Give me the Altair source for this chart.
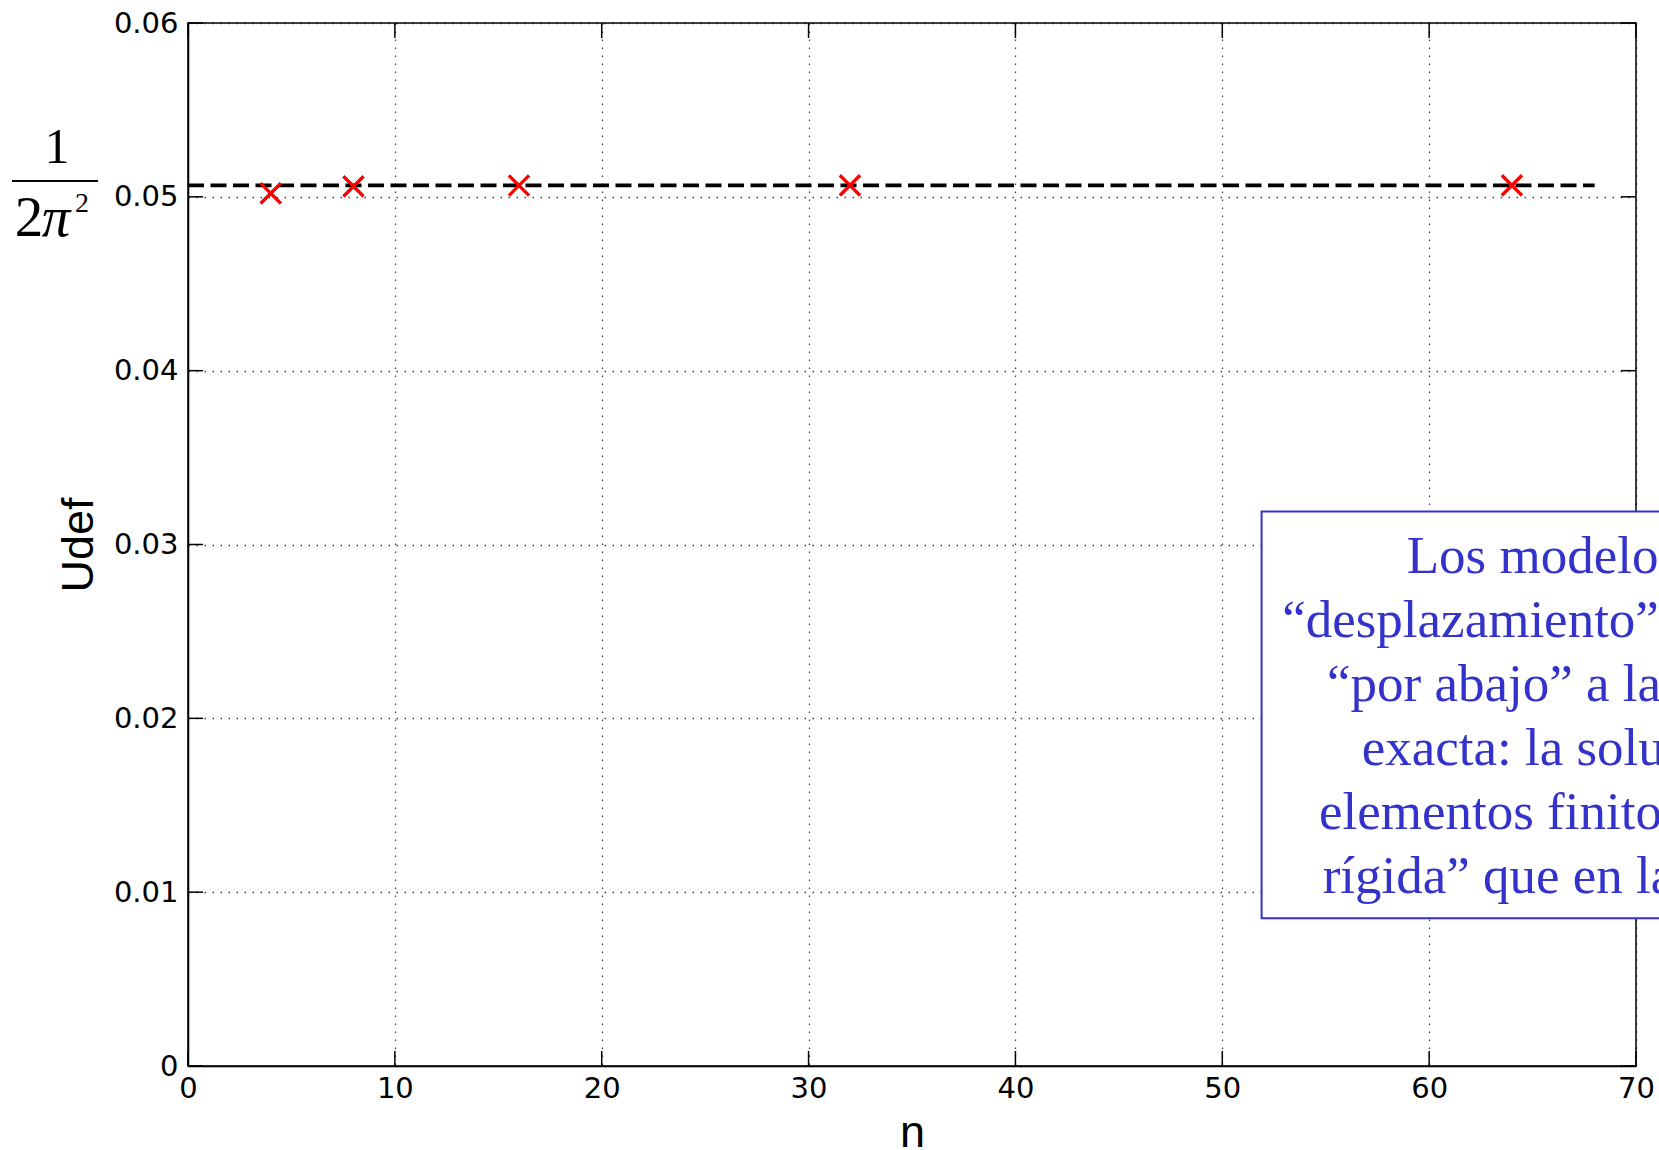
import math
import altair as alt
import pandas as pd

# Finite-element estimates of the deflection for increasing mesh size n
n_values = [4, 8, 16, 32, 64]
udef_values = [0.0502, 0.0506, 0.05065, 0.05066, 0.05066]

# Exact solution 1 / (2 pi^2), drawn as a dashed reference line
exact_value = 1 / (2 * math.pi ** 2)
exact_span = [0, 68]

x_ticks = [0, 10, 20, 30, 40, 50, 60, 70]
y_ticks = [0, 0.01, 0.02, 0.03, 0.04, 0.05, 0.06]

note_lines = [
    "Los modelos de",
    "“desplazamiento” aproximan",
    "“por abajo” a la solución",
    "exacta: la solución de",
    "elementos finitos es “más",
    "rígida” que en la realidad",
]
note_box_x = [51.9, 82.0]
note_box_y = [0.0085, 0.0319]
note_text_pos = [67.8, 0.02835]

W, H = 1448, 1043
TICK = 15
LINE_H = 64
NOTE_BLUE = "#3333cc"

x_scale = alt.Scale(domain=[0, 70], nice=False, zero=False)
y_scale = alt.Scale(domain=[0, 0.06], nice=False, zero=False)

x_axis = alt.Axis(
    values=x_ticks, title="n", grid=True, ticks=False, tickSize=0,
    labelFlush=False, labelOverlap=False, labelPadding=8, titlePadding=7,
)
y_axis = alt.Axis(
    values=y_ticks, title="Udef", grid=True, ticks=False, tickSize=0,
    labelFlush=False, labelOverlap=False, labelPadding=10, titlePadding=12,
    labelExpr="datum.value == 0 ? '0' : format(datum.value, '.2f')",
)

pts = pd.DataFrame({"n": n_values, "udef": udef_values})
xt = pd.DataFrame({"v": x_ticks})
yt = pd.DataFrame({"v": y_ticks})

# Base layer carrying the axes and the FE points
points = alt.Chart(pts).mark_point(
    shape="M-1,-1L1,1M-1,1L1,-1", size=400, filled=False,
    color="#ff0000", strokeWidth=3, opacity=1,
).encode(
    x=alt.X("n:Q", scale=x_scale, axis=x_axis),
    y=alt.Y("udef:Q", scale=y_scale, axis=y_axis),
)

exact_line = alt.Chart().mark_rule(
    color="black", strokeWidth=3.8, strokeDash=[16, 6.5]
).encode(
    x=alt.datum(exact_span[0]), x2=alt.datum(exact_span[1]), y=alt.datum(exact_value)
)

# Inward tick marks on all four sides of the box
tick_bottom = alt.Chart(xt).mark_rule(color="black", strokeWidth=1.5).encode(
    x="v:Q", y=alt.value(H), y2=alt.value(H - TICK))
tick_top = alt.Chart(xt).mark_rule(color="black", strokeWidth=1.5).encode(
    x="v:Q", y=alt.value(0), y2=alt.value(TICK))
tick_left = alt.Chart(yt).mark_rule(color="black", strokeWidth=1.5).encode(
    y="v:Q", x=alt.value(0), x2=alt.value(TICK))
tick_right = alt.Chart(yt).mark_rule(color="black", strokeWidth=1.5).encode(
    y="v:Q", x=alt.value(W), x2=alt.value(W - TICK))

# Note box
note_box = alt.Chart().mark_rect(
    fill="white", stroke=NOTE_BLUE, strokeWidth=2
).encode(
    x=alt.datum(note_box_x[0]), x2=alt.datum(note_box_x[1]),
    y=alt.datum(note_box_y[0]), y2=alt.datum(note_box_y[1]),
)
note_style = dict(
    font="Liberation Serif", fontSize=53, color=NOTE_BLUE,
    align="center", baseline="alphabetic", lineHeight=LINE_H,
)
note_first = alt.Chart().mark_text(dx=-16, **note_style).encode(
    x=alt.datum(note_text_pos[0]), y=alt.datum(note_text_pos[1]),
    text=alt.value(note_lines[0]),
)
note_rest = alt.Chart().mark_text(dy=LINE_H, **note_style).encode(
    x=alt.datum(note_text_pos[0]), y=alt.datum(note_text_pos[1]),
    text=alt.value(note_lines[1:]),
)

# Fraction label 1 / (2 pi^2) next to the y axis
serif = dict(font="Liberation Serif", color="black", align="center", baseline="alphabetic")
frac_num = alt.Chart().mark_text(fontSize=50, **serif).encode(
    x=alt.value(-131), y=alt.value(140), text=alt.value("1"))
frac_bar = alt.Chart().mark_rule(color="black", strokeWidth=2).encode(
    x=alt.value(-176), x2=alt.value(-90), y=alt.value(158))
frac_two = alt.Chart().mark_text(fontSize=57, **serif).encode(
    x=alt.value(-159), y=alt.value(213), text=alt.value("2"))
frac_pi = alt.Chart().mark_text(fontSize=57, fontStyle="italic", **serif).encode(
    x=alt.value(-132), y=alt.value(213), text=alt.value("π"))
frac_sq = alt.Chart().mark_text(fontSize=28, **serif).encode(
    x=alt.value(-106), y=alt.value(189), text=alt.value("2"))

chart = alt.layer(
    points, exact_line, points,
    tick_bottom, tick_top, tick_left, tick_right,
    note_box, note_first, note_rest,
    frac_num, frac_bar, frac_two, frac_pi, frac_sq,
).properties(
    width=W, height=H,
    autosize=alt.AutoSizeParams(type="none"),
    padding={"left": 188, "top": 23, "right": 23, "bottom": 84},
    background="white",
).configure_view(
    stroke="black", strokeWidth=1.5
).configure_axis(
    domainColor="black", domainWidth=1.5,
    gridColor="#000000", gridOpacity=0.75, gridWidth=1.3, gridDash=[1.5, 6.5],
    labelFont="DejaVu Sans", labelFontSize=29, labelColor="black",
    titleFont="Liberation Sans", titleFontSize=45, titleFontWeight="normal",
    titleColor="black",
)

chart.save("out.html", embed_options={"renderer": "svg", "actions": False})
